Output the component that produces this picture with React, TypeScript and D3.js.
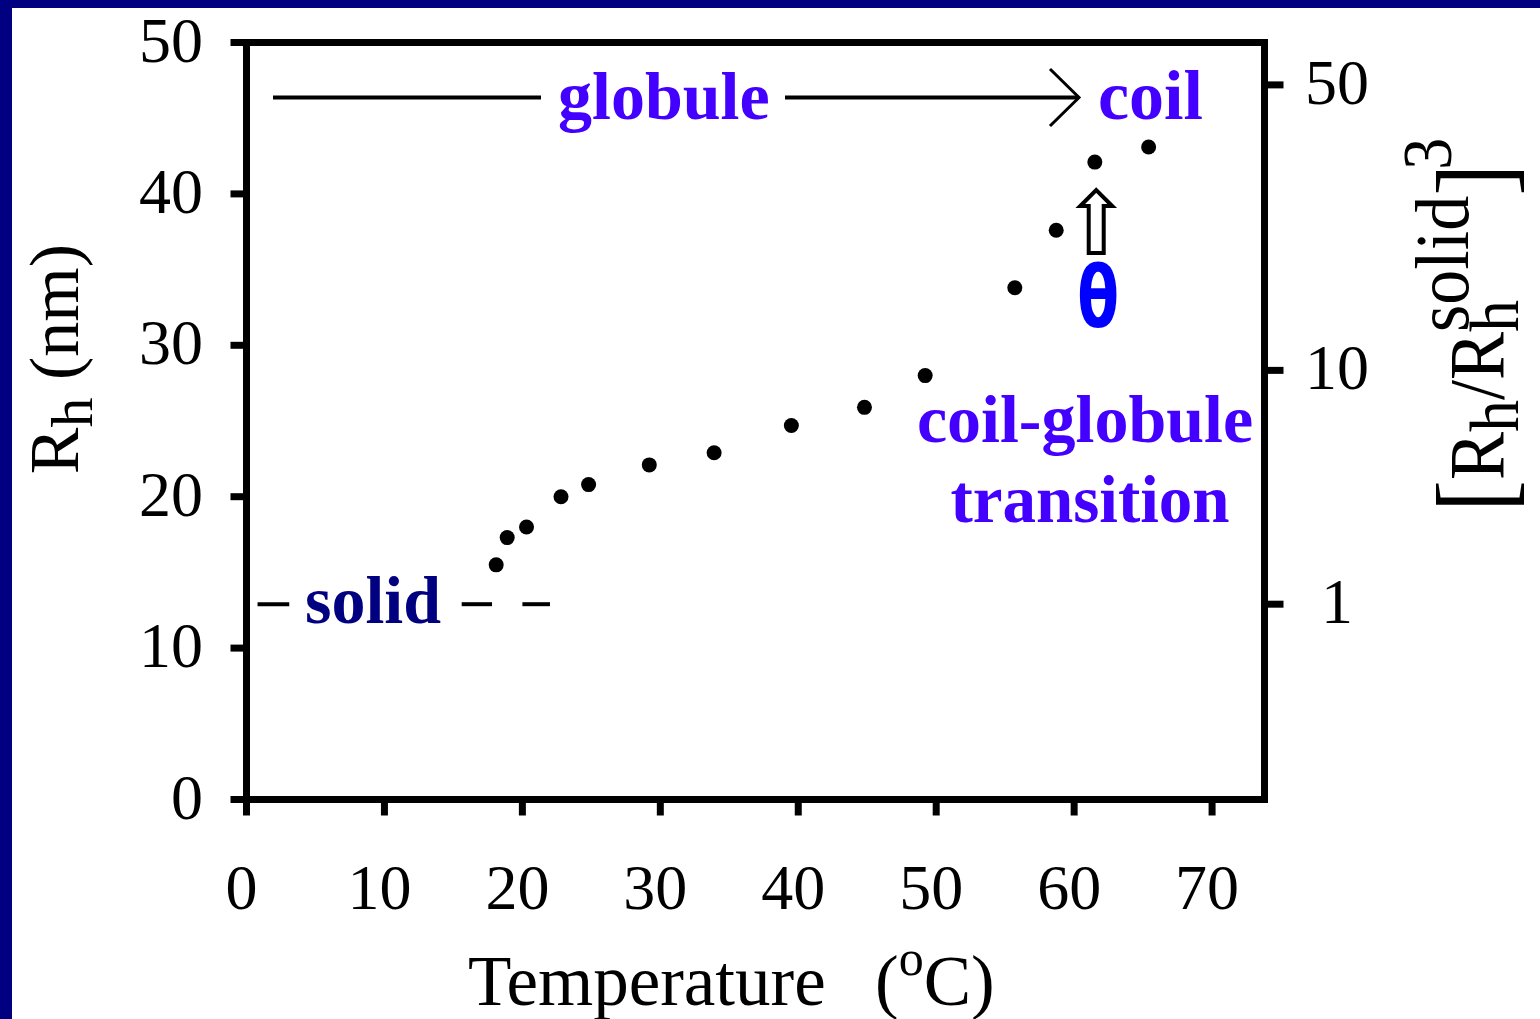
import React from "react";
import * as d3 from "d3";

// ---- data ----
const temperature = [18.1, 18.9, 20.3, 22.8, 24.8, 29.2, 33.9, 39.5, 44.8, 49.2, 55.7, 58.7, 61.5, 65.4];
const rh = [15.5, 17.3, 18.0, 20.0, 20.8, 22.1, 22.9, 24.7, 25.9, 28.0, 33.8, 37.6, 42.1, 43.1];
const xTicks = [0, 10, 20, 30, 40, 50, 60, 70];
const yTicks = [0, 10, 20, 30, 40, 50];
const rightTicks = [1, 10, 50];
const rhSolid = 12.9;
// solid dashes (temperature ranges)
const solidDashes = [[0.8, 3.1], [15.6, 17.8], [20.0, 22.0]];

const W = 1540, H = 1019;
const FONT = "'Liberation Serif', 'Times New Roman', serif";

export default function App() {
  const x = d3.scaleLinear().domain([0, 73.8]).range([246.5, 1264.5]);
  const y = d3.scaleLinear().domain([0, 50]).range([799.5, 42.5]);
  const rightToRh = d3.scalePow().exponent(0.29).domain([1, 50]).range([rhSolid, 47.2]);
  const yr = (v: number) => y(rightToRh(v));

  const x0 = x(0), x1 = x(73.8), yb = y(0), yt = y(50);
  const purple = "#4400ff";

  const arrowX = x(61.6);
  const solidY = y(rhSolid);

  return (
    <div style={{ position: "absolute", left: 0, top: 0 }}>
      <svg width={W} height={H} style={{ display: "block" }}>
        <rect x={0} y={0} width={W} height={H} fill="#ffffff" />
        <rect x={0} y={0} width={12} height={H} fill="#000080" />
        <rect x={0} y={0} width={W} height={8} fill="#000080" />

        {/* frame */}
        <rect x={x0} y={yt} width={x1 - x0} height={yb - yt} fill="none" stroke="#000" strokeWidth={7} />
        {/* left ticks */}
        {yTicks.map((t) => (
          <g key={"yl" + t}>
            <line x1={x0 - 16} x2={x0} y1={y(t)} y2={y(t)} stroke="#000" strokeWidth={7} />
            <text x={203} y={y(t) + 19} textAnchor="end" fontFamily={FONT} fontSize={64}>{t}</text>
          </g>
        ))}
        {/* bottom ticks */}
        {xTicks.map((t) => (
          <g key={"xb" + t}>
            <line x1={x(t)} x2={x(t)} y1={yb} y2={yb + 16} stroke="#000" strokeWidth={7} />
            <text x={x(t) - 5} y={909} textAnchor="middle" fontFamily={FONT} fontSize={64}>{t}</text>
          </g>
        ))}
        {/* right ticks */}
        {rightTicks.map((t) => (
          <g key={"yr" + t}>
            <line x1={x1} x2={x1 + 19} y1={yr(t)} y2={yr(t)} stroke="#000" strokeWidth={7} />
            <text x={1337} y={yr(t) + 19} textAnchor="middle" fontFamily={FONT} fontSize={64}>{t}</text>
          </g>
        ))}

        {/* points */}
        {temperature.map((t, i) => (
          <circle key={"p" + i} cx={x(t)} cy={y(rh[i])} r={7.5} fill="#000" />
        ))}

        {/* globule -> coil */}
        <line x1={273} x2={541} y1={97.5} y2={97.5} stroke="#000" strokeWidth={4} />
        <line x1={785} x2={1079} y1={97.5} y2={97.5} stroke="#000" strokeWidth={4} />
        <polyline points="1050,69 1079,97.5 1050,126" fill="none" stroke="#000" strokeWidth={3} />
        <text x={558} y={119} fontFamily={FONT} fontSize={68} fontWeight="bold" fill={purple}>globule</text>
        <text x={1098} y={119} fontFamily={FONT} fontSize={70} fontWeight="bold" fill={purple}>coil</text>

        {/* coil-globule transition */}
        <text x={1085} y={442} textAnchor="middle" fontFamily={FONT} fontSize={68} fontWeight="bold" fill={purple}>coil-globule</text>
        <text x={1090} y={522} textAnchor="middle" fontFamily={FONT} fontSize={67} fontWeight="bold" fill={purple}>transition</text>

        {/* solid */}
        {solidDashes.map((d, i) => (
          <line key={"sd" + i} x1={x(d[0])} x2={x(d[1])} y1={solidY} y2={solidY} stroke="#000" strokeWidth={4} />
        ))}
        <text x={305} y={623} fontFamily={FONT} fontSize={68} fontWeight="bold" fill="#000080">solid</text>

        {/* hollow arrow + theta */}
        <path
          d={`M${arrowX - 7.5},253 L${arrowX + 7.5},253 L${arrowX + 7.5},206 L${arrowX + 16},206 L${arrowX},190 L${arrowX - 16},206 L${arrowX - 7.5},206 Z`}
          fill="#fff" stroke="#000" strokeWidth={4} strokeLinejoin="miter"
        />
        <text transform={`translate(${arrowX + 2},327) scale(0.8,1.13)`} textAnchor="middle" fontFamily="'DejaVu Sans', sans-serif" fontWeight="bold" fontSize={76} fill="#0000ff">θ</text>

        {/* x label */}
        <text x={468} y={1005} fontFamily={FONT} fontSize={71}>Temperature</text>
        <text x={875} y={1005} fontFamily={FONT} fontSize={71}>(<tspan dy={-30} fontSize={50}>o</tspan><tspan dy={30}>C)</tspan></text>

        {/* left y label */}
        <text transform="translate(78,359) rotate(-90)" textAnchor="middle" fontFamily={FONT} fontSize={70}>
          R<tspan dy={14} fontSize={60}>h</tspan><tspan dy={-14}> (nm)</tspan>
        </text>

        {/* right y label */}
        <text transform="translate(1503,512) rotate(-90) scale(1,1.1)" fontFamily={FONT} fontSize={72}>
          <tspan fontSize={96} dy={6}>[</tspan>
          <tspan dy={-6}>R</tspan>
          <tspan dy={14} fontSize={64}>h</tspan>
          <tspan dy={-14}>/R</tspan>
          <tspan dy={14} fontSize={64}>h</tspan>
          <tspan dy={-46} dx={-32} fontSize={70}>solid</tspan>
          <tspan dy={38} fontSize={96}>]</tspan>
          <tspan dy={-53} dx={-6} fontSize={64}>3</tspan>
        </text>
      </svg>
    </div>
  );
}
